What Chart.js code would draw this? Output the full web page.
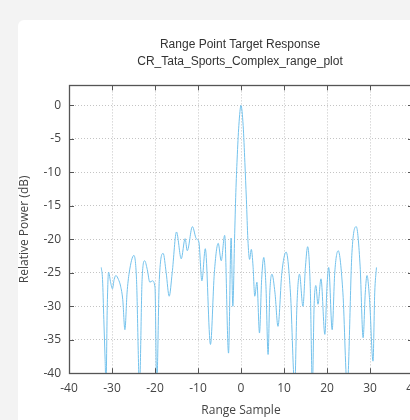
<!DOCTYPE html>
<html>
<head>
<meta charset="utf-8">
<script src="https://cdn.jsdelivr.net/npm/chart.js@4/dist/chart.umd.min.js"></script>
<style>
  html, body { margin: 0; padding: 0; width: 410px; height: 420px; overflow: hidden; background: #f3f3f3; }
  #card { position: absolute; left: 18px; top: 20px; width: 480px; height: 420px; background: #ffffff; border-top-left-radius: 6px; }
  #c { position: absolute; left: 0; top: 0; }
</style>
</head>
<body>
<div id="card"></div>
<canvas id="c" width="480" height="420"></canvas>
<script>
// Range samples (x) and relative power in dB (y)
const rangeSample = [
  -32.5, -32.2, -31.9, -31.6, -31.4, -31.1, -30.8, -30.3, -29.9, -29.5,
  -29.1, -28.5, -28.0, -27.5, -27.0, -26.5, -26.0, -24.9, -24.3, -23.6,
  -23.0, -22.4, -21.8, -21.2, -20.6, -20.0, -19.6, -19.0, -18.1, -17.4,
  -16.7, -16.0, -15.0, -13.9, -13.0, -12.5, -11.3, -10.4, -9.8, -9.1,
  -8.3, -7.1, -6.2, -5.3, -4.6, -3.8, -2.9, -2.3, -1.9, -1.5,
  -1.2, -0.9, -0.5, 0.0, 0.5, 0.9, 1.25, 1.6, 2.0, 2.4,
  2.8, 3.2, 3.7, 4.3, 4.8, 5.3, 5.8, 6.3, 6.7, 7.2,
  7.9, 8.6, 9.5, 10.5, 11.5, 12.5, 13.0, 13.6, 14.4, 15.0,
  15.5, 16.1, 16.6, 17.0, 17.4, 17.9, 18.6, 19.5, 20.0, 20.4,
  21.2, 21.8, 22.6, 23.7, 24.7, 25.8, 26.8, 27.7, 28.4, 28.9,
  29.3, 29.9, 30.7, 31.1, 31.5
];
const relativePower = [
  -24.2, -26.0, -32.0, -38.0, -42.0, -30.0, -24.9, -26.5, -27.4, -26.0,
  -25.4, -26.0, -27.0, -29.0, -33.5, -28.0, -25.0, -22.4, -26.0, -42.0,
  -26.0, -23.2, -24.5, -26.4, -26.2, -27.2, -42.0, -26.0, -22.1, -25.0,
  -28.5, -25.0, -18.9, -22.9, -19.9, -21.7, -18.1, -19.9, -20.4, -26.2,
  -21.4, -35.7, -25.0, -20.6, -23.2, -19.4, -37.0, -19.8, -30.0, -20.0,
  -13.0, -8.0, -3.0, 0.0, -3.0, -8.5, -14.0, -20.0, -23.0, -21.5,
  -24.0, -28.5, -26.4, -34.0, -26.0, -22.7, -27.0, -37.2, -28.0, -25.2,
  -28.0, -33.0, -25.0, -21.9, -28.0, -42.0, -30.0, -25.2, -30.0, -24.0,
  -21.1, -27.0, -42.0, -30.0, -26.9, -29.7, -25.9, -34.2, -27.0, -24.2,
  -33.5, -25.0, -21.7, -28.0, -42.0, -22.0, -18.1, -24.0, -34.7, -28.0,
  -25.4, -29.0, -38.2, -28.0, -24.2
];
const xTickValues = [-40, -30, -20, -10, 0, 10, 20, 30, 40];
const yTickValues = [0, -5, -10, -15, -20, -25, -30, -35, -40];
const titleLines = ['Range Point Target Response', 'CR_Tata_Sports_Complex_range_plot'];

const points = rangeSample.map((x, i) => ({ x: x, y: relativePower[i] }));

const frame = {
  id: 'frame',
  afterDatasetsDraw(chart) {
    const a = chart.chartArea, ctx = chart.ctx;
    const xs = chart.scales.x, ys = chart.scales.y;
    ctx.save();
    ctx.strokeStyle = '#555555';
    ctx.lineWidth = 1;
    ctx.beginPath();
    xTickValues.forEach(v => {
      const px = Math.round(xs.getPixelForValue(v)) + 0.5;
      ctx.moveTo(px, a.bottom); ctx.lineTo(px, a.bottom - 5);
      ctx.moveTo(px, a.top); ctx.lineTo(px, a.top + 5);
    });
    yTickValues.forEach(v => {
      const py = Math.round(ys.getPixelForValue(v)) + 0.5;
      ctx.moveTo(a.left, py); ctx.lineTo(a.left + 5, py);
      ctx.moveTo(a.right, py); ctx.lineTo(a.right - 5, py);
    });
    ctx.stroke();
    ctx.lineWidth = 1.3;
    ctx.strokeRect(Math.round(a.left) + 0.5, Math.round(a.top) + 0.5, Math.round(a.right - a.left), Math.round(a.bottom - a.top));
    ctx.restore();
  }
};

new Chart(document.getElementById('c'), {
  type: 'line',
  data: {
    datasets: [{
      data: points,
      borderColor: '#74c2ec',
      borderWidth: 1,
      pointRadius: 0,
      cubicInterpolationMode: 'monotone',
      fill: false
    }]
  },
  options: {
    responsive: false,
    animation: false,
    events: [],
    layout: { padding: { top: 27, left: 0, right: 0, bottom: 0 } },
    plugins: {
      legend: { display: false },
      tooltip: { enabled: false },
      title: {
        display: true,
        text: titleLines,
        color: '#333333',
        font: { family: "'Liberation Sans', sans-serif", size: 12, weight: 'normal', lineHeight: 1.35 },
        padding: { top: 10, bottom: 16 }
      }
    },
    scales: {
      x: {
        type: 'linear',
        min: -40, max: 40,
        afterBuildTicks: s => { s.ticks = xTickValues.map(v => ({ value: v })); },
        grid: { color: '#c4c4c4', drawTicks: false, lineWidth: 1 },
        border: { display: false, dash: [1, 2] },
        ticks: { color: '#444444', padding: 8, font: { family: 'Open Sans, Noto Sans, sans-serif', size: 12 }, maxRotation: 0 },
        title: { display: true, text: 'Range Sample', color: '#444444', font: { family: 'Open Sans, Noto Sans, sans-serif', size: 12 }, padding: { top: 0, bottom: 2 } }
      },
      y: {
        type: 'linear',
        min: -40, max: 3,
        afterBuildTicks: s => { s.ticks = yTickValues.map(v => ({ value: v })); },
        afterFit: s => { s.width = 69; },
        grid: { color: '#c4c4c4', drawTicks: false, lineWidth: 1 },
        border: { display: false, dash: [1, 2] },
        ticks: { color: '#444444', padding: 8, font: { family: 'Open Sans, Noto Sans, sans-serif', size: 12 } },
        title: { display: true, text: 'Relative Power (dB)', color: '#444444', font: { family: 'Open Sans, Noto Sans, sans-serif', size: 12 }, padding: { top: 17, bottom: 0 } }
      },
      y2: {
        type: 'linear',
        position: 'right',
        min: -40, max: 3,
        afterFit: s => { s.width = 67; },
        grid: { display: false, drawTicks: false },
        border: { display: false },
        ticks: { display: false }
      }
    }
  },
  plugins: [frame]
});
</script>
</body>
</html>
